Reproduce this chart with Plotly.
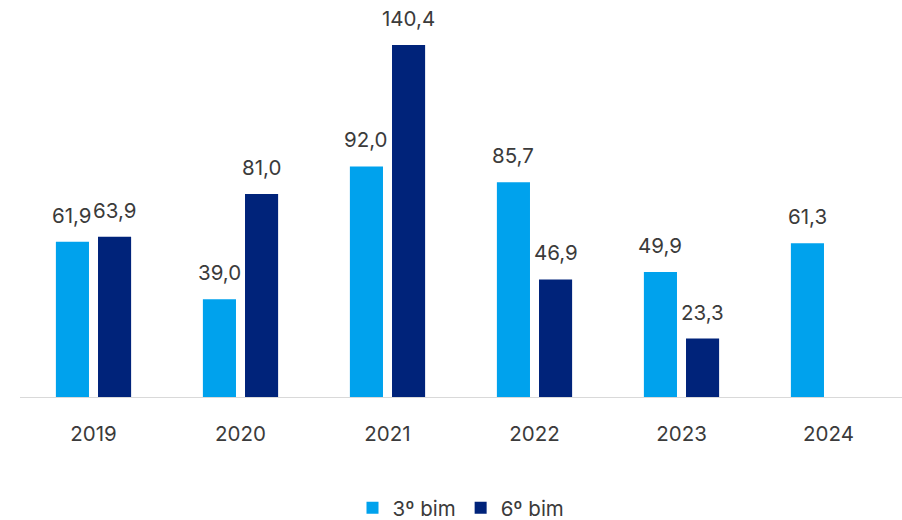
import plotly.graph_objects as go

# Values per year, third and sixth bimester
years = ["2019", "2020", "2021", "2022", "2023", "2024"]
bim3 = [61.9, 39.0, 92.0, 85.7, 49.9, 61.3]
bim6 = [63.9, 81.0, 140.4, 46.9, 23.3, None]
series_names = ["3º bim", "6º bim"]
colors = ["#00A2ED", "#00237A"]

BARGAP = 0.427
GROUPGAP = 0.214
FONT = "Inter"
TEXT_COLOR = "#3b3b3b"


def fmt(v):
    return f"{v:.1f}".replace(".", ",")


fig = go.Figure()
for name, vals, col in zip(series_names, [bim3, bim6], colors):
    fig.add_trace(go.Bar(
        x=years, y=vals, name=name, marker=dict(color=col, line=dict(width=0)),
        hoverinfo="skip",
    ))

# Value labels above each bar, placed at the centre of its slot in the group
slot = (1 - BARGAP) / 2
annotations = []
for k, vals in enumerate([bim3, bim6]):
    off = (k - 0.5) * slot
    for i, v in enumerate(vals):
        if v is None:
            continue
        annotations.append(dict(
            x=i + off, y=v, xref="x", yref="y", text=fmt(v), showarrow=False,
            yanchor="bottom", yshift=12,
            font=dict(family=FONT, size=20.5, color=TEXT_COLOR),
        ))

fig.update_layout(
    width=902, height=520,
    margin=dict(l=20, r=0, t=10, b=123, autoexpand=False),
    paper_bgcolor="white", plot_bgcolor="white",
    barmode="group", bargap=BARGAP, bargroupgap=GROUPGAP,
    font=dict(family=FONT, size=20, color=TEXT_COLOR),
    annotations=annotations,
    showlegend=True,
    legend=dict(orientation="h", x=0.5, xanchor="center",
                yref="container", y=(520 - 508) / 520, yanchor="middle",
                font=dict(family=FONT, size=20.5, color=TEXT_COLOR),
                itemclick=False, traceorder="normal"),
    xaxis=dict(type="category", showline=True, linecolor="#d9d9d9", linewidth=1,
               ticks="outside", ticklen=18, tickcolor="rgba(0,0,0,0)",
               automargin=False,
               showgrid=False, tickfont=dict(family=FONT, size=20.5, color=TEXT_COLOR)),
    yaxis=dict(range=[0, 154.4], visible=False, showgrid=False, zeroline=False),
)

fig.write_html("out.html")
